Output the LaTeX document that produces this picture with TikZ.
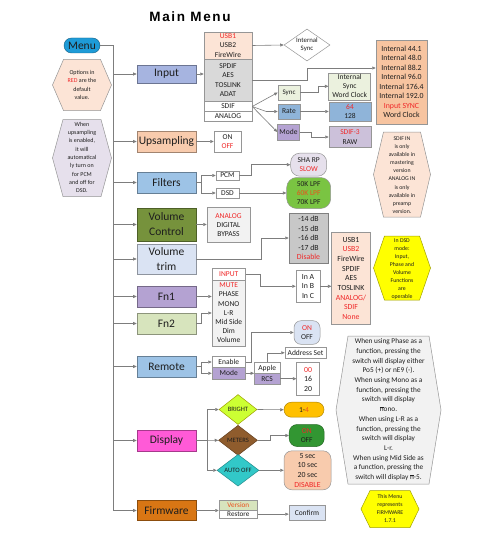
\documentclass[tikz,border=0pt]{standalone}
\usepackage{fontspec}
\setmainfont{Carlito}
\newfontfamily\titlefont[LetterSpace=12]{Liberation Sans}
\usetikzlibrary{arrows.meta,shapes.geometric}
\definecolor{cText}{RGB}{30,30,30}
\definecolor{cLine}{RGB}{125,125,125}
\definecolor{cBorder}{RGB}{150,150,150}
\definecolor{cRed}{RGB}{240,40,40}
\definecolor{cOrRed}{RGB}{235,80,30}
\definecolor{cMenu}{RGB}{30,155,215}
\definecolor{cInput}{RGB}{166,180,224}
\definecolor{cUps}{RGB}{248,203,173}
\definecolor{cFilt}{RGB}{157,195,230}
\definecolor{cVC}{RGB}{118,146,60}
\definecolor{cVT}{RGB}{218,227,243}
\definecolor{cFnA}{RGB}{180,162,210}
\definecolor{cFnB}{RGB}{215,228,189}
\definecolor{cDisp}{RGB}{255,90,215}
\definecolor{cFirm}{RGB}{216,118,20}
\definecolor{cPeach}{RGB}{252,228,214}
\definecolor{cOrange}{RGB}{247,196,160}
\definecolor{cGray}{RGB}{217,217,217}
\definecolor{cLtGray}{RGB}{242,242,242}
\definecolor{cLtGreen}{RGB}{235,241,222}
\definecolor{cRate}{RGB}{143,180,217}
\definecolor{cLav}{RGB}{204,193,218}
\definecolor{cLavL}{RGB}{230,224,236}
\definecolor{cLPF}{RGB}{122,196,66}
\definecolor{cDB}{RGB}{200,200,200}
\definecolor{cYellow}{RGB}{255,255,0}
\definecolor{cYellowB}{RGB}{160,160,0}
\definecolor{cBright}{RGB}{204,255,51}
\definecolor{cMeters}{RGB}{143,92,45}
\definecolor{cAuto}{RGB}{50,200,200}
\definecolor{cGold}{RGB}{255,192,0}
\definecolor{cDkGreen}{RGB}{50,150,50}
\newcommand\redtxt[1]{\textcolor{cRed}{#1}}
\newcommand\barn{\leavevmode\rlap{\rule[1.12ex]{0.5em}{0.09ex}}n}
\newcommand\hexshape[6]{\draw[#6] ({#1-#3/2},{#2}) -- ({#1-#3/2+#5},{#2-#4/2}) -- ({#1+#3/2-#5},{#2-#4/2}) -- ({#1+#3/2},{#2}) -- ({#1+#3/2-#5},{#2+#4/2}) -- ({#1-#3/2+#5},{#2+#4/2}) -- cycle;}
\begin{document}
\begin{tikzpicture}[x=1pt,y=-1pt,
  line/.style={draw=cLine, line width=0.6pt},
  arr/.style={line, -{Triangle[length=3.5pt,width=3pt]}},
  mainbox/.style={draw=#1!65!black, fill=#1, line width=0.6pt, minimum width=59pt, minimum height=21pt, inner sep=0pt, font=\fontsize{11.5}{15}\selectfont, text=cText, align=center},
  sb/.style={draw=cBorder, line width=0.5pt, inner sep=0pt, align=center, text=cText, font=\fontsize{7.5}{9.4}\selectfont},
  hexnote/.style={inner sep=0pt, align=center, text=cText, font=\fontsize{5.8}{8.1}\selectfont},
  dia/.style={diamond, line width=0.5pt, inner sep=0pt, text=cText, font=\fontsize{6.6}{8}\selectfont}
]
\useasboundingbox (0,0) rectangle (500,543);
\fill[white] (0,0) rectangle (500,543);

\node[font=\titlefont\fontsize{13.5}{16}\selectfont\bfseries, text=black] (title) at (190,17) {Main Menu};

% left column
\node[draw=cMenu!60!black, fill=cMenu, rounded corners=7.5pt, minimum width=36pt, minimum height=15pt, inner sep=0pt, font=\fontsize{11.5}{13}\selectfont, text=cText] (menu) at (82,45.5) {Menu};
\hexshape{82}{85}{59}{51}{11}{draw=cBorder, fill=cPeach, line width=0.5pt}
\node[hexnote, font=\fontsize{6}{8.2}\selectfont] (optnote) at (82,85) {Options in\\\redtxt{RED} are the\\default\\value.};
\hexshape{82}{158}{59}{77}{10.5}{draw=cBorder, fill=cLavL, line width=0.5pt}
\node[hexnote, font=\fontsize{6}{8.3}\selectfont] (upnote) at (82,157.5) {When\\upsampling\\is enabled,\\it will\\automatical\\ly turn on\\for PCM\\and off for\\DSD.};

% main boxes
\node[mainbox=cInput, minimum height=18pt] (input) at (166.5,74) {Input};
\node[mainbox=cUps] (ups) at (166.5,141.5) {Upsampling};
\node[mainbox=cFilt] (filters) at (166.5,182.5) {Filters};
\node[mainbox=cVC, minimum height=33pt] (vc) at (166.5,224.5) {Volume\\Control};
\node[mainbox=cVT, minimum height=30pt] (vt) at (166.5,259) {Volume\\trim};
\node[mainbox=cFnA] (fn1) at (166.5,296.5) {Fn1};
\node[mainbox=cFnB] (fn2) at (166.5,323.5) {Fn2};
\node[mainbox=cFilt] (remote) at (166.5,366.5) {Remote};
\node[mainbox=cDisp] (display) at (166.5,440.5) {Display};
\node[mainbox=cFirm, minimum height=20pt] (firmware) at (166.5,510.5) {Firmware};

\coordinate (ttop) at (113,45.5);
\coordinate (tbot) at (113,510.5);
\draw[line] (menu.east) -- (ttop) -- (tbot);
\foreach \n in {input,ups,filters,vc,vt,fn1,fn2,remote,display,firmware}
  \draw[arr] (\n.west -| ttop) -- (\n.west);

% Input branch
\node[sb, fill=cPeach, minimum width=48pt, minimum height=27pt] (inusb) at (228,45.5) {\redtxt{USB1}\\USB2\\FireWire};
\node[sb, fill=cGray, minimum width=48pt, minimum height=42.5pt] (ingrp) at (228,80.25) {SPDIF\\AES\\TOSLINK\\ADAT};
\node[sb, fill=white, minimum width=48pt, minimum height=10pt] (sdif) at (228,106.5) {SDIF};
\node[sb, fill=white, minimum width=48pt, minimum height=9.5pt] (analog) at (228,116.25) {ANALOG};
\node[dia, draw=cBorder, fill=white, minimum width=46pt, minimum height=32pt, aspect=1.44, align=center, font=\fontsize{6.8}{8}\selectfont] (isync) at (307,45) {Internal\\Sync};
\node[sb, fill=cOrange, minimum width=51pt, minimum height=84pt, font=\fontsize{7.8}{9.5}\selectfont] (intbox) at (401.5,82) {Internal 44.1\\Internal 48.0\\Internal 88.2\\Internal 96.0\\Internal 176.4\\Internal 192.0\\\redtxt{Input SYNC}\\Word Clock};
\node[sb, fill=cLtGreen, minimum width=22pt, minimum height=15pt, font=\fontsize{7}{9}\selectfont] (sync) at (289,92.5) {Sync};
\node[sb, fill=cRate, minimum width=22pt, minimum height=15pt] (rate) at (289,111.5) {Rate};
\node[sb, fill=cFnA, minimum width=22pt, minimum height=16pt] (mode) at (288.5,132) {Mode};
\node[sb, fill=cLtGreen, minimum width=42pt, minimum height=27pt, font=\fontsize{7.5}{9}\selectfont] (iswc) at (349.7,86.3) {Internal\\Sync\\Word Clock};
\node[sb, fill=cRate, minimum width=42pt, minimum height=19pt] (r64) at (350,111.5) {\redtxt{64}\\128};
\node[sb, fill=cLav, minimum width=42pt, minimum height=21pt] (sdif3) at (350,137) {\redtxt{SDIF-3}\\RAW};
\hexshape{402}{174.5}{57}{85}{10}{draw=cBorder, fill=cPeach, line width=0.5pt}
\node[hexnote] (sdifnote) at (402,175) {SDIF IN\\is only\\available in\\mastering\\version\\ANALOG IN\\is only\\available in\\preamp\\version.};

\draw[arr] (input.east) -- (input.east -| ingrp.west);
\draw[arr] (inusb.east) -- (isync.west);
\draw[arr] (ingrp.east) -- ++(55,0) |- ([yshift=14pt]intbox.west);
\draw[arr] (sdif.east) -- (sync.west);
\draw[arr] (sdif.east) -- ++(14,5) -- (rate.west);
\draw[arr] (sdif.east) -- (mode.west);
\draw[arr] (sync.east) -- ++(18,0) |- (iswc.west);
\draw[arr] (rate.east) -- (r64.west);
\draw[arr] (mode.east) -- ++(12,0) |- (sdif3.west);

% Upsampling, Filters
\node[sb, fill=white, minimum width=27pt, minimum height=21pt] (upsoo) at (227.5,141.5) {ON\\\redtxt{OFF}};
\node[sb, fill=white, minimum width=23pt, minimum height=9.5pt] (pcm) at (227.5,175.5) {PCM};
\node[sb, fill=white, minimum width=23pt, minimum height=9.5pt] (dsd) at (227.5,193) {DSD};
\node[sb, fill=cLavL, minimum width=36pt, minimum height=23pt, rounded corners=9pt] (sha) at (308.7,164.7) {SHA RP\\\redtxt{SLOW}};
\node[sb, fill=cLPF, minimum width=44pt, minimum height=31pt, rounded corners=10pt] (lpf) at (308.7,193) {50K LPF\\\textcolor{cOrRed}{60K LPF}\\70K LPF};
\draw[arr] (ups.east) -- (upsoo.west);
\draw[arr] (filters.east) -- ++(5,0) |- (pcm.west);
\draw[arr] (filters.east) -- ++(5,0) |- (dsd.west);
\draw[arr] (pcm.east) -- ++(12,0) |- (sha.west);
\draw[arr] (dsd.east) -- (lpf.west);

% Volume
\node[sb, fill=cLtGray, minimum width=43pt, minimum height=35pt] (vcopt) at (228.5,225) {\redtxt{ANALOG}\\DIGITAL\\BYPASS};
\node[sb, draw=gray, fill=cDB, minimum width=39pt, minimum height=50pt, font=\fontsize{7.8}{9.6}\selectfont] (db) at (308.5,238) {-14 dB\\-15 dB\\-16 dB\\-17 dB\\\redtxt{Disable}};
\draw[arr] (vc.east) -- (vc.east -| vcopt.west);
\draw[arr] (vt.east) -- ++(65,0) |- (db.west);

% Fn1 / Fn2
\node[sb, fill=white, minimum width=33.5pt, minimum height=11.5pt] (fninput) at (228.75,274.25) {\redtxt{INPUT}};
\node[sb, fill=cLtGray, minimum width=33.5pt, minimum height=66pt, font=\fontsize{7.5}{9.2}\selectfont] (fnlist) at (228.75,313) {\redtxt{MUTE}\\PHASE\\MONO\\L-R\\Mid Side\\Dim\\Volume};
\node[sb, fill=white, minimum width=24pt, minimum height=32.7pt, font=\fontsize{7.8}{9.5}\selectfont] (inabc) at (308,286.3) {In A\\In B\\In C};
\node[sb, fill=cPeach, minimum width=38.6pt, minimum height=92pt, font=\fontsize{7.8}{9.7}\selectfont] (srclist) at (351,278.3) {USB1\\\redtxt{USB2}\\FireWire\\SPDIF\\AES\\TOSLINK\\\redtxt{ANALOG/}\\\redtxt{SDIF}\\\redtxt{None}};
\hexshape{402}{268}{57}{64}{11}{draw=cYellowB, fill=cYellow, line width=0.5pt}
\node[hexnote, font=\fontsize{5.8}{8}\selectfont] (dsdnote) at (402,268.7) {In DSD\\mode:\\Input,\\Phase and\\Volume\\Functions\\are\\operable};
\draw[arr] (fn1.east) -- (fn1.east -| fnlist.west);
\draw[arr] (fn2.east) -- ++(5,0) |- (fnlist.west);
\draw[arr] (fninput.east) -- ++(14.5,0) |- (inabc.west);
\draw[arr] (inabc.east) -- (inabc.east -| srclist.west);

% Remote
\node[sb, fill=white, minimum width=33.5pt, minimum height=10.6pt] (enable) at (228.75,362) {Enable};
\node[sb, fill=cFnA, minimum width=33.5pt, minimum height=12pt] (rmode) at (228.75,373.3) {Mode};
\node[sb, fill=cVT, minimum width=26pt, minimum height=23.6pt, rounded corners=7pt] (ronoff) at (307,332.5) {\redtxt{ON}\\OFF};
\node[sb, fill=white, minimum width=25.7pt, minimum height=10.6pt] (apple) at (267.2,368) {Apple};
\node[sb, fill=cFnA, minimum width=25.7pt, minimum height=10.7pt] (rcs) at (267.2,378.7) {RCS};
\node[sb, fill=white, minimum width=41pt, minimum height=11pt] (addr) at (305.5,352.8) {Address Set};
\node[sb, fill=white, minimum width=22.6pt, minimum height=32.6pt, font=\fontsize{7.8}{9.5}\selectfont] (r00) at (308,379) {\redtxt{00}\\16\\20};
\draw[arr] (remote.east) -- ++(5,0) |- (enable.west);
\draw[arr] (remote.east) -- ++(5,0) |- (rmode.west);
\draw[arr] (enable.east) -- ++(6,0) |- (ronoff.west);
\draw[arr] (rmode.east) -- (rmode.east -| apple.west);
\draw[arr] (apple.north) |- (addr.west);
\draw[arr] (rcs.east) -- (rcs.east -| r00.west);

% Display
\node[dia, draw=cYellowB, fill=cBright, minimum width=38pt, minimum height=30pt] (bright) at (238,409.5) {BRIGHT};
\node[dia, draw=cMeters!70!black, fill=cMeters, minimum width=39pt, minimum height=30pt] (meters) at (238,440.3) {METERS};
\node[dia, draw=cAuto!70!black, fill=cAuto, minimum width=42pt, minimum height=29pt] (autooff) at (238,470.3) {AUTO OFF};
\node[sb, draw=cGold!70!black, fill=cGold, minimum width=40pt, minimum height=15pt, rounded corners=7.5pt] (b14) at (304,409.7) {1-\textcolor{cOrRed}{4}};
\node[sb, draw=cDkGreen!70!black, fill=cDkGreen, minimum width=35pt, minimum height=22pt, rounded corners=8pt] (monoff) at (306.7,435.5) {\redtxt{ON}\\OFF};
\node[sb, fill=cUps, minimum width=47pt, minimum height=39pt, rounded corners=8pt, font=\fontsize{7.8}{9.7}\selectfont] (secs) at (307.5,470.3) {5 sec\\10 sec\\20 sec\\\redtxt{DISABLE}};
\draw[arr] (display.east) -- ++(11,0) |- (bright.west);
\draw[arr] (display.east) -- (meters.west);
\draw[arr] (display.east) -- ++(11,0) |- (autooff.west);
\draw[arr] (bright.east) -- (b14.west);
\draw[arr] (meters.east) -- ++(13,0) |- (monoff.west);
\draw[arr] (autooff.east) -- (secs.west);

% Firmware
\node[sb, fill=cFnB, minimum width=38.7pt, minimum height=9.3pt, font=\fontsize{7.2}{9}\selectfont] (version) at (238.35,505.35) {\textcolor{cOrRed}{Version}};
\node[sb, fill=white, minimum width=38.7pt, minimum height=8.3pt, font=\fontsize{7.2}{9}\selectfont] (restore) at (238.35,514.15) {Restore};
\node[sb, fill=cVT, minimum width=36pt, minimum height=15pt] (confirm) at (307,513) {Confirm};
\draw[arr] (firmware.east) -- (firmware.east -| version.west);
\draw[arr] (restore.east) -- (restore.east -| confirm.west);

% notes
\hexshape{388.5}{410}{105}{148}{12}{draw=cBorder, fill=cLtGray, line width=0.5pt}
\node[hexnote, font=\fontsize{7.3}{9.7}\selectfont] (bignote) at (388.5,409.7) {When using Phase as a\\function, pressing the\\switch will display either\\Po5 (+) or nE9 (-).\\When using Mono as a\\function, pressing the\\switch will display\\\barn ono.\\When using L-R as a\\function, pressing the\\switch will display\\L-r.\\When using Mid Side as\\a function, pressing the\\switch will display \barn-5.};
\hexshape{390}{509}{58}{37}{9}{draw=cYellowB, fill=cYellow, line width=0.5pt}
\node[hexnote] (fwnote) at (390,508.7) {This Menu\\represents\\FIRMWARE\\1.7.1};
\end{tikzpicture}
\end{document}
